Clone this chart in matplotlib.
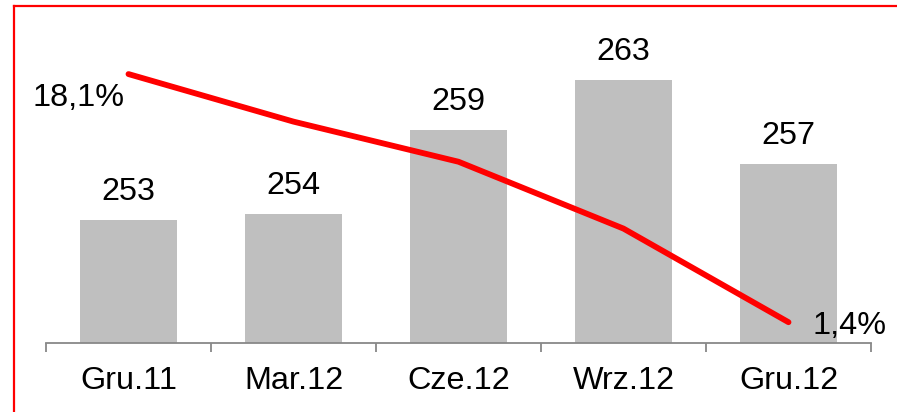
import matplotlib
matplotlib.use("Agg")
import matplotlib.pyplot as plt
from matplotlib.lines import Line2D

categories = ["Gru.11", "Mar.12", "Cze.12", "Wrz.12", "Gru.12"]
bar_values = [253.2, 253.6, 259.4, 262.8, 257.0]
line_values = [18.1, 14.9, 12.2, 7.7, 1.4]
line_labels = {0: "18,1%", 4: "1,4%"}

plt.rcParams["font.family"] = ["Liberation Sans", "DejaVu Sans"]
FS = 23.3

fig = plt.figure(figsize=(8.97, 4.12), dpi=100)
ax = fig.add_axes([46 / 897, 69 / 412, 825 / 897, 323 / 412])
x = list(range(len(categories)))

ax.bar(x, bar_values, width=0.588, color="#BFBFBF", zorder=1)
ax.set_xlim(-0.5, 4.5)
ax.set_ylim(244.7, 266.95)
for xi, v in zip(x, bar_values):
    ax.annotate(f"{v:.0f}", (xi, v), xytext=(0, 14.4), textcoords="offset points",
                ha="center", va="baseline", fontsize=FS, color="black")

for s in ["left", "right", "top"]:
    ax.spines[s].set_visible(False)
ax.spines["bottom"].set_color("#888888")
ax.spines["bottom"].set_linewidth(1.3)
ax.set_yticks([])
ax.set_xticks([i - 0.5 for i in range(len(categories) + 1)])
ax.set_xticklabels([])
ax.tick_params(axis="x", which="major", length=6.5, width=1.3, color="#888888", direction="out")
ax.set_xticks(x, minor=True)
ax.set_xticklabels(categories, minor=True, fontsize=FS)
ax.tick_params(axis="x", which="minor", length=0, pad=16.5)

ax2 = ax.twinx()
ax2.set_ylim(0, 21.74)
ax2.plot(x, line_values, color="#FF0000", linewidth=4.2, solid_capstyle="round",
         solid_joinstyle="round", zorder=3)
ax2.set_yticks([])
for s in ax2.spines.values():
    s.set_visible(False)
ax2.annotate(line_labels[0], (0, line_values[0]), xytext=(-3, -17), textcoords="offset points",
             ha="right", va="center", fontsize=FS)
ax2.annotate(line_labels[4], (4, line_values[4]), xytext=(17, -2.5), textcoords="offset points",
             ha="left", va="center", fontsize=FS)

# red frame
x0 = 14.3 / 897
ytop = (412 - 6) / 412
fig.add_artist(Line2D([x0, x0], [0, ytop], transform=fig.transFigure, color="#FF0000", linewidth=1.6))
fig.add_artist(Line2D([x0, 1.0], [ytop, ytop], transform=fig.transFigure, color="#FF0000", linewidth=1.6))

fig.savefig("out.png", dpi=100)
